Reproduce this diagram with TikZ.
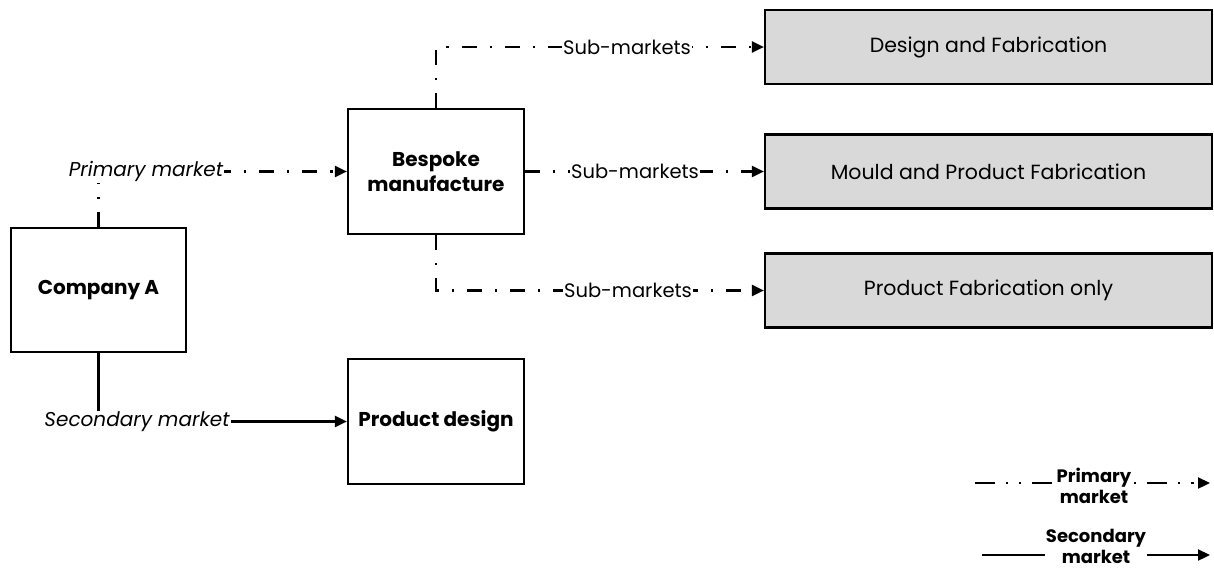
\documentclass[tikz,border=0pt]{standalone}
\usepackage{fontspec}
\setmainfont{Poppins}
\usetikzlibrary{arrows.meta}

\begin{document}
\begin{tikzpicture}[x=1pt,y=-1pt,
  font=\fontsize{19.5pt}{23pt}\selectfont,
  box/.style={draw,line width=2.2pt,inner sep=0pt,align=center},
  wbox/.style={box,fill=white,minimum width=176pt,minimum height=125pt,font=\fontsize{20pt}{25pt}\selectfont\bfseries},
  gbox/.style={box,fill=gray!30,minimum width=447pt,minimum height=74pt,font=\fontsize{20.5pt}{24pt}\selectfont},
  tip/.style={-{Triangle[length=12pt,width=11pt]}},
  primary/.style={line width=2.2pt,tip,dash pattern=on 15pt off 13pt on 2.2pt off 13pt},
  primleg/.style={line width=2.2pt,tip,dash pattern=on 20pt off 11pt on 2.2pt off 11pt on 2.2pt off 11pt},
  secondary/.style={line width=2.2pt,tip},
  lbl/.style={fill=white,inner sep=1pt},
  itlbl/.style={lbl,font=\fontsize{20pt}{24pt}\selectfont\itshape},
  leg/.style={fill=white,inner sep=1pt,align=center,font=\fontsize{18pt}{21pt}\selectfont\bfseries}]
\useasboundingbox (0,0) rectangle (1214,576);

% main boxes
\node[wbox,minimum width=175pt,minimum height=124pt] (ca) at (98.5,290) {Company A};
\node[wbox] (bm) at (436,171.5) {Bespoke\\manufacture};
\node[wbox] (pd) at (436,421.5) {Product design};

% sub-market boxes
\node[gbox] (d1) at (988.5,47) {Design and Fabrication};
\node[gbox] (d2) at (988.5,171.5) {Mould and Product Fabrication};
\node[gbox] (d3) at (988.5,290.5) {Product Fabrication only};

% primary and secondary markets
\draw[primary] (ca.north) |- (bm.west);
\node[itlbl] (lp) at (146,171.5) {Primary market};
\draw[secondary] (ca.south) |- (pd.west);
\node[itlbl] (ls) at (137,421.5) {Secondary market};

% sub-markets
\draw[primary] (bm.north) |- (d1.west);
\node[lbl] (s1) at (627,47) {Sub-markets};
\draw[primary] (bm.east) -- (d2.west);
\node[lbl] (s2) at (635,171.5) {Sub-markets};
\draw[primary] (bm.south) |- (d3.west);
\node[lbl] (s3) at (628,290.5) {Sub-markets};

% legend
\coordinate (pa) at (975,483);
\coordinate (pb) at (1210,483);
\draw[primleg] (pa) -- (pb);
\node[leg] (pl) at (1094,486) {Primary\\market};
\coordinate (sa) at (982,555);
\coordinate (sb) at (1210,555);
\draw[secondary] (sa) -- (sb);
\node[leg] (sl) at (1096,546) {Secondary\\market};
\end{tikzpicture}
\end{document}
